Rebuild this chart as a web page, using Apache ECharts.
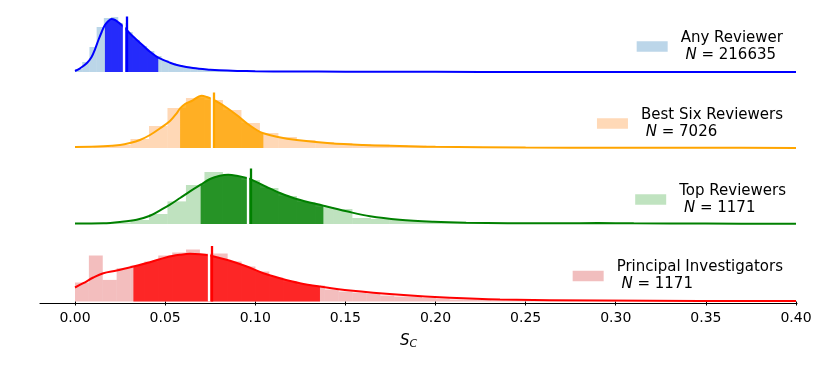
<!DOCTYPE html>
<html>
<head>
<meta charset="utf-8">
<script src="https://cdn.jsdelivr.net/npm/echarts@6/dist/echarts.min.js"></script>
<style>
  html, body { margin: 0; padding: 0; background: #fff; }
  #chart { width: 830px; height: 369px; }
</style>
</head>
<body>
<div id="chart"></div>
<script>
// groups, top to bottom
const groups = ['Any Reviewer', 'Best Six Reviewers', 'Top Reviewers', 'Principal Investigators'];
const counts = [216635, 7026, 1171, 1171];
const xTicks = [0, 0.05, 0.1, 0.15, 0.2, 0.25, 0.3, 0.35, 0.4];

// histogram bin widths and heights (scaled density)
const binWidths = [0.004, 0.01026, 0.01026, 0.0077];
const histAny = [3, 10, 25, 45, 54, 55, 49, 40, 32, 26, 21, 16, 12, 9, 7, 5.5, 4, 3.2, 2.5, 2,
  1.6, 1.3, 1.1, 0.9, 0.8, 0.7, 0.6, 0.5, 0.4, 0.4, 0.3, 0.3];
const histBestSix = [0.3, 1, 3, 9, 22, 40, 50, 48, 38, 25, 15, 11, 8, 6, 5, 4, 3.5, 3, 2.5, 2,
  1.6, 1.3, 1, 0.8, 0.6, 0.5, 0.5, 0.4, 0.3, 0.3, 0.2, 0.2];
const histTop = [0, 0.3, 1.5, 4, 10, 22.6, 39, 52, 48, 44, 36, 28, 22, 17, 15, 6, 5, 4, 3, 2,
  1.5, 1, 1, 0.5, 0.5, 0.5, 0.5, 1, 1, 0.5, 0.3, 0.3, 0.3, 0.3, 0.3, 0.2, 0.2, 0.2, 0.2];
const histPI = [19, 46, 21.6, 33.3, 36, 40, 46, 49, 52, 48, 48, 40, 35, 30, 24, 20, 17, 16, 12, 10,
  9, 8, 6, 5, 5, 3.5, 3, 2, 2, 1.5, 1.2, 1, 0.8, 0.6, 0.5, 0.5, 0.4, 0.3, 0.3];

// KDE curves
const kdeAnyX = [0, 0.0028, 0.0065, 0.0092, 0.0111, 0.013, 0.0148, 0.0166, 0.0185, 0.0203, 0.0222, 0.024,
  0.0259, 0.0301, 0.0333, 0.036, 0.0388, 0.0416, 0.0462, 0.0527, 0.0583, 0.0655, 0.075, 0.08, 0.09,
  0.1, 0.12, 0.15, 0.2, 0.25, 0.3, 0.35, 0.4];
const kdeAnyY = [1, 3.7, 8.7, 15, 22.7, 32, 40, 47, 51, 53, 52, 49.7,
  47, 39.3, 33.7, 29.3, 24.7, 20.3, 14.3, 9.3, 6.3, 4, 2.3, 1.7, 1.1,
  0.8, 0.5, 0.3, 0.15, 0.1, 0.05, 0.05, 0.05];
const kdeBestSixX = [0, 0.0157, 0.025, 0.0305, 0.036, 0.0416, 0.0472, 0.0527, 0.0564, 0.0583, 0.061, 0.0647,
  0.0703, 0.0731, 0.0758, 0.0795, 0.0842, 0.0897, 0.0953, 0.1008, 0.1045, 0.1119, 0.123, 0.1415, 0.16,
  0.18, 0.2, 0.25, 0.3, 0.35, 0.4];
const kdeBestSixY = [1, 1.7, 3, 5, 8, 13, 19.7, 27, 34.7, 39.7, 44, 47,
  52.3, 51, 49, 45.7, 40.3, 33, 24.7, 18, 14.7, 11.3, 8, 4.7, 3,
  2, 1.2, 0.5, 0.3, 0.2, 0.1];
const kdeTopX = [0, 0.0157, 0.025, 0.0342, 0.0416, 0.0472, 0.0527, 0.0583, 0.0638, 0.0697, 0.0749, 0.0804,
  0.085, 0.0897, 0.0953, 0.0999, 0.1063, 0.1137, 0.123, 0.1378, 0.1507, 0.1637, 0.18, 0.199, 0.217,
  0.24, 0.27, 0.29, 0.31, 0.35, 0.4];
const kdeTopY = [0.5, 0.7, 2, 4.3, 8.3, 13.7, 19.3, 26, 32.7, 39.3, 45, 48.3,
  49.3, 48.3, 46, 42.7, 37, 31, 25, 18.3, 12.7, 7.7, 4.3, 2.3, 1.3,
  0.8, 0.7, 0.9, 0.7, 0.4, 0.3];
const kdePIX = [0, 0.0046, 0.0102, 0.0157, 0.0231, 0.0324, 0.0416, 0.0509, 0.0583, 0.0638, 0.0693, 0.074,
  0.0786, 0.086, 0.0953, 0.1045, 0.1137, 0.1248, 0.1359, 0.1526, 0.1803, 0.208, 0.2358, 0.291, 0.347, 0.4];
const kdePIY = [14, 18.3, 24, 28.3, 31, 35, 39.3, 44.3, 46.7, 47.7, 47.3, 46.3,
  44.3, 40.7, 35, 28.3, 23.3, 18.3, 15, 11, 6.7, 3.7, 2, 1, 0.6, 0.4];

// shaded interquartile range and the two marker lines (median white, mean coloured)
const iqrLow = [0.0166, 0.0583, 0.0697, 0.0324];
const iqrHigh = [0.0462, 0.1045, 0.1378, 0.1359];
const medians = [0.0268, 0.0757, 0.0959, 0.0741];
const means = [0.0285, 0.0772, 0.0973, 0.0756];

const hists = [histAny, histBestSix, histTop, histPI];
const kdeX = [kdeAnyX, kdeBestSixX, kdeTopX, kdePIX];
const kdeY = [kdeAnyY, kdeBestSixY, kdeTopY, kdePIY];

const lineColors = ['#0000ff', '#ffa500', '#008000', '#ff0000'];
const histColors = ['#1f77b4', '#ff7f0e', '#2ca02c', '#d62728'];
const legendColors = ['#bcd6e9', '#ffd9b7', '#c0e3c0', '#f1bebe'];
const FONT = 'DejaVu Sans';

const chart = echarts.init(document.getElementById('chart'), null, { renderer: 'canvas' });

const baselines = [72, 148, 224, 301.5];
const rowH = 60;
const legendTops = [29.5, 106.5, 182.5, 259];
const legendRights = [47, 47, 44, 47];

const grid = baselines.map(b => ({ left: 75, right: 34, top: b - rowH, height: rowH }));
// extra grid only for the long bottom spine
grid.push({ left: 40, right: 33, top: 302, height: 1 });

const xAxis = baselines.map((b, i) => ({
  type: 'value', gridIndex: i, min: 0, max: 0.4,
  interval: 0.05,
  show: i === 3,
  offset: 1.5,
  axisLine: { show: false },
  axisTick: { show: true, length: 4, lineStyle: { color: '#000', width: 1 } },
  axisLabel: {
    show: true, margin: 8, fontSize: 14, fontFamily: FONT, color: '#000',
    formatter: v => v.toFixed(2)
  },
  splitLine: { show: false }
}));
xAxis.push({
  type: 'value', gridIndex: 4, min: -0.02, max: 0.4,
  axisLine: { show: true, onZero: false, lineStyle: { color: '#000', width: 1.2 } },
  axisTick: { show: false }, axisLabel: { show: false }, splitLine: { show: false },
  name: '{s|S}{c|C}', nameLocation: 'middle', nameGap: 29,
  nameTextStyle: {
    padding: [0, 20, 0, 0],
    rich: {
      s: { fontSize: 15, fontStyle: 'italic', fontFamily: FONT, color: '#000' },
      c: { fontSize: 11, fontStyle: 'italic', fontFamily: FONT, color: '#000', padding: [7, 0, 0, 0] }
    }
  }
});

const yAxis = baselines.map((b, i) => ({ type: 'value', gridIndex: i, min: 0, max: rowH, show: false }));
yAxis.push({ type: 'value', gridIndex: 4, show: false });

const series = [];
groups.forEach((g, i) => {
  const bw = binWidths[i];
  series.push({
    name: g,
    type: 'custom',
    xAxisIndex: i, yAxisIndex: i,
    z: 1,
    itemStyle: { color: legendColors[i] },
    encode: { x: 0, y: 1 },
    data: hists[i].map((h, k) => [k * bw, h]),
    renderItem: (params, api) => {
      const x0 = api.value(0);
      const h = api.value(1);
      const p0 = api.coord([x0, 0]);
      const p1 = api.coord([x0 + bw, h]);
      return {
        type: 'rect',
        shape: { x: p0[0], y: p1[1], width: p1[0] - p0[0], height: p0[1] - p1[1] },
        style: { fill: histColors[i], opacity: 0.3 }
      };
    }
  });
  const pts = kdeX[i].map((x, k) => [x, kdeY[i][k]]);
  series.push({
    type: 'line',
    xAxisIndex: i, yAxisIndex: i,
    z: 2,
    smooth: 0.35,
    showSymbol: false,
    clip: false,
    data: pts.filter(p => p[0] >= iqrLow[i] && p[0] <= iqrHigh[i]),
    lineStyle: { width: 0 },
    areaStyle: { color: lineColors[i], opacity: 0.8 }
  });
  series.push({
    type: 'line',
    xAxisIndex: i, yAxisIndex: i,
    z: 3,
    smooth: 0.35,
    showSymbol: false,
    clip: false,
    data: pts,
    lineStyle: { width: 2, color: lineColors[i] },
    itemStyle: { color: lineColors[i] },
    markLine: {
      silent: true,
      symbol: 'none',
      label: { show: false },
      data: [
        [{ coord: [medians[i], 0], lineStyle: { color: '#fff', width: 2.3, type: 'solid' } },
         { coord: [medians[i], 55.5] }],
        [{ coord: [means[i], 0], lineStyle: { color: lineColors[i], width: 2.3, type: 'solid' } },
         { coord: [means[i], 55.5] }]
      ]
    }
  });
});

const legend = groups.map((g, i) => ({
  data: [{ name: g, itemStyle: { color: legendColors[i] } }],
  right: legendRights[i],
  top: legendTops[i],
  padding: 0,
  icon: 'rect',
  itemWidth: 31,
  itemHeight: 10.5,
  selectedMode: false,
  formatter: () => g + '\n {n|N} = ' + counts[i],
  textStyle: {
    fontFamily: FONT, fontSize: 15, color: '#000', lineHeight: 17,
    padding: [0, 0, 0, 8],
    rich: {
      n: { fontFamily: FONT, fontSize: 15, fontStyle: 'italic', color: '#000', lineHeight: 17 }
    }
  }
}));

chart.setOption({
  animation: false,
  backgroundColor: '#fff',
  grid,
  xAxis,
  yAxis,
  legend,
  series
});
</script>
</body>
</html>
